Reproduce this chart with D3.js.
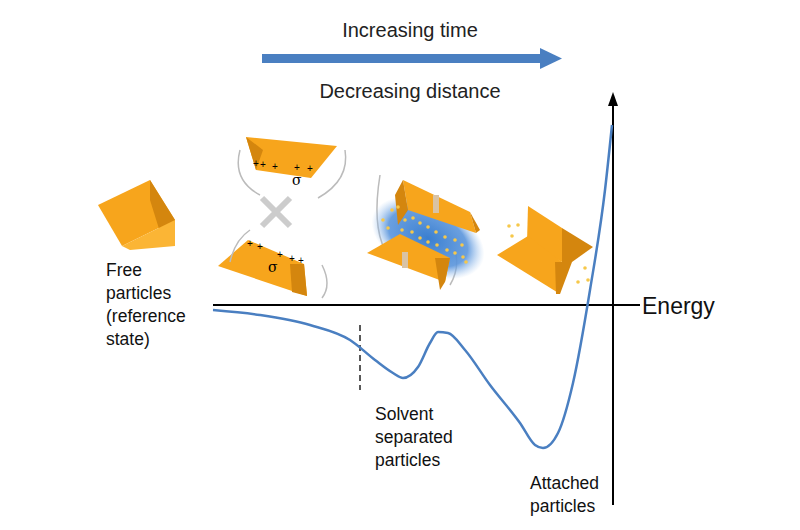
<!DOCTYPE html>
<html><head><meta charset="utf-8">
<script src="https://cdn.jsdelivr.net/npm/d3@7"></script>
<style>body{margin:0;background:#fff}</style></head>
<body><svg id="c" width="800" height="530"></svg>
<script>
// distance (arbitrary units, 0 = far) and energy (relative to free particles)
const distance = [0, 47, 97, 137, 162, 180, 190, 205, 217, 225, 235, 252, 277, 307, 322, 330, 345, 360, 377, 392, 399];
const energy   = [-5, -10, -20, -35, -55, -68, -73, -62, -38, -27, -28, -45, -80, -118, -140, -143, -128, -78, 15, 115, 180];
const labels = {
  top1: "Increasing time", top2: "Decreasing distance", axis: "Energy",
  free: ["Free", "particles", "(reference", "state)"],
  solvent: ["Solvent", "separated", "particles"],
  attached: ["Attached", "particles"]
};
const svg = d3.select("#c");
const x = d3.scaleLinear().domain([0, 400]).range([213, 613]);
const y = d3.scaleLinear().domain([-200, 210]).range([505, 95]);
const F = "Liberation Sans, Arial, sans-serif";

svg.append("rect").attr("x",262).attr("y",54).attr("width",282).attr("height",9).attr("fill","#4a7fc1");
svg.append("path").attr("d","M540,48 L562,58.5 L540,69 Z").attr("fill","#4a7fc1");
svg.append("text").attr("x",410).attr("y",37).attr("text-anchor","middle").attr("font-family",F).attr("font-size",20).attr("fill","#222").text(labels.top1);
svg.append("text").attr("x",410).attr("y",98).attr("text-anchor","middle").attr("font-family",F).attr("font-size",20).attr("fill","#222").text(labels.top2);

svg.append("line").attr("x1",213).attr("x2",640).attr("y1",y(0)).attr("y2",y(0)).attr("stroke","#000").attr("stroke-width",2);
svg.append("line").attr("x1",x(400)).attr("x2",x(400)).attr("y1",505).attr("y2",102).attr("stroke","#000").attr("stroke-width",2);
svg.append("path").attr("d",`M${x(400)-5},106 L${x(400)},92 L${x(400)+5},106 Z`).attr("fill","#000");
svg.append("text").attr("x",642).attr("y",y(0)+9).attr("font-family",F).attr("font-size",23).attr("fill","#111").text(labels.axis);
svg.append("line").attr("x1",x(147)).attr("x2",x(147)).attr("y1",y(-20)).attr("y2",y(-85)).attr("stroke","#222").attr("stroke-width",1.5).attr("stroke-dasharray","6,4");

svg.append("path").datum(distance.map((d,i)=>[d,energy[i]]))
  .attr("d", d3.line().x(d=>x(d[0])).y(d=>y(d[1])).curve(d3.curveMonotoneX))
  .attr("fill","none").attr("stroke","#4a7fc1").attr("stroke-width",2.5);

function multi(lines, x0, y0){ lines.forEach((t,i)=>svg.append("text").attr("x",x0).attr("y",y0+i*23).attr("font-family",F).attr("font-size",17.5).attr("fill","#111").text(t)); }
multi(labels.free, 106, 276);
multi(labels.solvent, 375, 420);
multi(labels.attached, 530, 489);

const light="#f7a51c", dark="#d4860e", mid="#fbb535";
function poly(pts, fill){ svg.append("polygon").attr("points",pts.map(p=>p.join(",")).join(" ")).attr("fill",fill); }
poly([[98,205],[150,180],[175,220],[122,246]], light);
poly([[150,180],[175,220],[175,246],[160,232],[150,200]], dark);
poly([[122,246],[175,220],[175,246],[130,250]], mid);
poly([[246,137],[337,146],[311,178],[256,170]], light);
poly([[246,137],[256,170],[263,150]], dark);
poly([[218,266],[248,240],[304,264],[307,296]], light);
poly([[290,264],[304,264],[307,296],[292,292]], dark);
const plus=[[256,167],[263,168],[275,170],[297,171],[310,172],[250,247],[260,250],[280,258],[292,262],[301,264]];
plus.forEach(p=>svg.append("text").attr("x",p[0]).attr("y",p[1]).attr("font-family",F).attr("font-size",10).attr("text-anchor","middle").text("+"));
svg.append("text").attr("x",292).attr("y",185).attr("font-family","DejaVu Serif").attr("font-size",14).text("σ");
svg.append("text").attr("x",268).attr("y",272).attr("font-family","DejaVu Serif").attr("font-size",14).text("σ");
svg.append("path").attr("d","M262,198 L290,226 M290,198 L262,226").attr("stroke","#ccc").attr("stroke-width",6);
[["M240,150 Q232,180 260,195"],["M345,150 Q350,180 318,198"],["M230,262 Q235,240 250,230"],["M322,265 Q332,285 322,298"],["M380,175 Q372,225 385,250"],["M455,250 Q460,268 450,285"]].forEach(d=>svg.append("path").attr("d",d[0]).attr("fill","none").attr("stroke","#bbb").attr("stroke-width",1.5));
const defs=svg.append("defs");
const g=defs.append("radialGradient").attr("id","blue");
g.append("stop").attr("offset","0%").attr("stop-color","#3a7fd0");
g.append("stop").attr("offset","70%").attr("stop-color","#5a95dc").attr("stop-opacity",0.9);
g.append("stop").attr("offset","100%").attr("stop-color","#9cc2ee").attr("stop-opacity",0);
svg.append("ellipse").attr("cx",428).attr("cy",238).attr("rx",60).attr("ry",36).attr("fill","url(#blue)").attr("transform","rotate(25,428,238)");
poly([[403,180],[470,212],[476,233],[408,210]], light);
poly([[470,212],[480,230],[476,233]], dark);
poly([[403,180],[408,210],[398,225],[395,195]], dark);
poly([[367,253],[400,234],[450,258],[445,282]], light);
poly([[435,258],[450,258],[445,282],[440,290]], dark);
const dots=[[392,210],[398,207],[405,220],[413,218],[420,223],[428,227],[436,232],[445,237],[455,240],[462,245],[402,230],[412,232],[420,238],[428,242],[437,245],[447,250],[455,253],[463,257],[466,262],[383,220],[388,228]];
dots.forEach(p=>svg.append("circle").attr("cx",p[0]).attr("cy",p[1]).attr("r",1.8).attr("fill","#f6c84a"));
svg.append("path").attr("d","M436,195 L436,213").attr("stroke","#d9c3a5").attr("stroke-width",6);
svg.append("path").attr("d","M405,268 L405,252").attr("stroke","#d9c3a5").attr("stroke-width",6);
poly([[528,206],[562,228],[562,262],[527,242]], light);
poly([[497,255],[528,236],[562,262],[560,294]], light);
poly([[562,228],[593,247],[572,262],[562,262]], dark);
poly([[555,262],[572,262],[560,294],[556,294]], dark);
[[509,226],[518,225],[512,236],[585,268],[588,280],[578,282]].forEach(p=>svg.append("circle").attr("cx",p[0]).attr("cy",p[1]).attr("r",1.8).attr("fill","#f6c84a"));
</script></body></html>
